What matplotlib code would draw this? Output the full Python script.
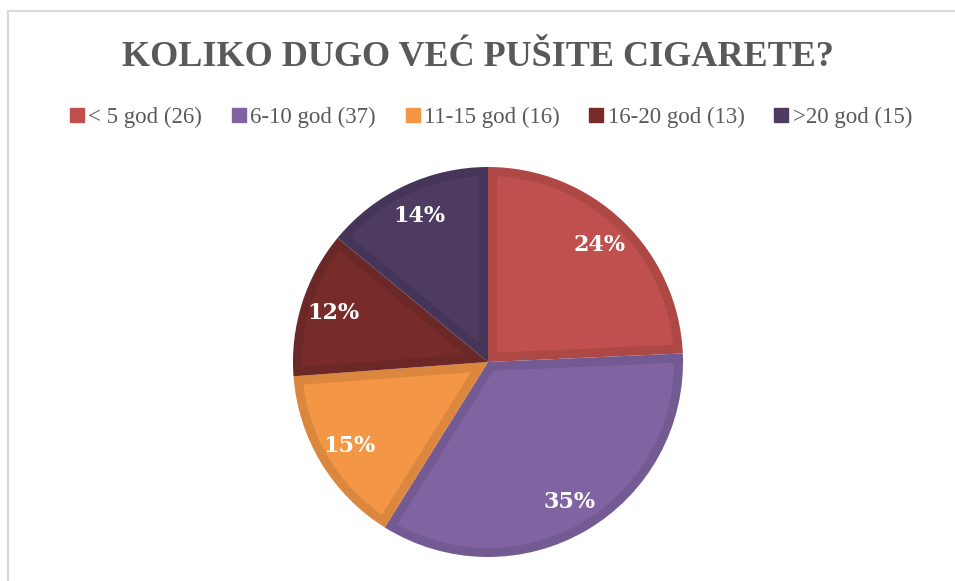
import numpy as np
import matplotlib.pyplot as plt
import matplotlib.colors as mcolors
from matplotlib.patches import Rectangle, Polygon
from matplotlib.lines import Line2D

# data
categories = ["< 5 god", "6-10 god", "11-15 god", "16-20 god", ">20 god"]
counts = [26, 37, 16, 13, 15]
colors = ["#C0504D", "#8064A2", "#F39645", "#772C2A", "#4D3B62"]
title = "KOLIKO DUGO VEĆ PUŠITE CIGARETE?"

W, H, DPI = 955, 581, 100
fig = plt.figure(figsize=(W / DPI, H / DPI), dpi=DPI)
fig.patch.set_facecolor("white")

# light gray chart frame (cropped on right / bottom)
fig.patches.append(Rectangle((7.5 / W, -0.1), 1.2, (H - 10.5) / H + 0.1,
                             transform=fig.transFigure, fill=False,
                             edgecolor="#d9d9d9", linewidth=1.5))

# pie axes: centre (488, 362) px, radius 195 px
cx, cy, r = 488, 362, 195
ax = fig.add_axes([(cx - r) / W, (H - cy - r) / H, 2 * r / W, 2 * r / H])

dark = [tuple(v * 0.9 for v in mcolors.to_rgb(c)) for c in colors]
wedges, texts, autotexts = ax.pie(
    counts, colors=dark, startangle=90, counterclock=False,
    autopct=lambda p: f"{round(p)}%", pctdistance=0.83,
    wedgeprops=dict(linewidth=0),
    textprops=dict(color="white", fontsize=16, fontweight="bold",
                   family="DejaVu Serif"))
ax.set_aspect("equal")
ax.set_xlim(-1, 1)
ax.set_ylim(-1, 1)


def inset_sector(t1, t2, d, R=1.0):
    # region of the sector (t1..t2 degrees) that lies at least d inside its edges
    a1, a2 = np.radians(t1), np.radians(t2)
    half = (a2 - a1) / 2
    bis = np.array([np.cos(a1 + half), np.sin(a1 + half)])
    P = bis * d / np.sin(half)
    rho = R - d
    pts = [P]
    ends = []
    for a in (a1, a2):
        e = np.array([np.cos(a), np.sin(a)])
        b = P @ e
        t = -b + np.sqrt(b * b - (P @ P - rho * rho))
        q = P + t * e
        ends.append(np.arctan2(q[1], q[0]))
    b1, b2 = ends
    if b2 < b1:
        b2 += 2 * np.pi
    arc = np.linspace(b1, b2, 120)
    pts += list(np.column_stack([rho * np.cos(arc), rho * np.sin(arc)]))
    return np.array(pts)


border = 9 / r
for w, c in zip(wedges, colors):
    poly = Polygon(inset_sector(w.theta1, w.theta2, border), closed=True,
                   facecolor=c, edgecolor="none", zorder=w.get_zorder() + 0.1)
    ax.add_patch(poly)
for t in autotexts:
    t.set_zorder(5)

fig.text(0.5, (H - 57) / H, title, ha="center", va="center",
         fontsize=26, fontweight="bold", color="#595959",
         family="Liberation Serif")

handles = [Line2D([], [], marker="s", linestyle="none", markersize=10,
                  markerfacecolor=c, markeredgecolor=c) for c in colors]
labels = [f"{c} ({n})" for c, n in zip(categories, counts)]
fig.legend(handles, labels, loc="center",
           bbox_to_anchor=(0.5 + 13 / W, (H - 117) / H),
           ncol=5, frameon=False, handlelength=0.7, handletextpad=0.15,
           columnspacing=1.25, prop=dict(family="Liberation Serif", size=16.5),
           labelcolor="#595959")

fig.savefig("out.png", dpi=DPI)
